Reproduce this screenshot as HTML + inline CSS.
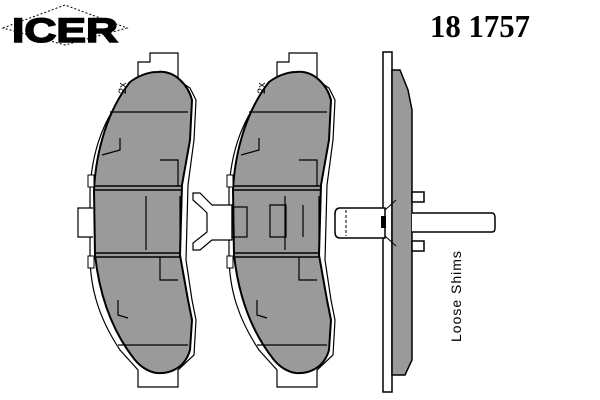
<!DOCTYPE html>
<html><head><style>body{margin:0;background:#fff}svg{display:block}</style></head><body>
<svg width="600" height="400" viewBox="0 0 600 400" xmlns="http://www.w3.org/2000/svg">
<defs>
<g id="pad">
<path d="M138,62 L150,62 L150,53 L178,53 L178,80 L190,88 L196,100 L194,140 L188,185 L186,260 L192,300 L196,320 L194,355 L178,370 L178,387 L138,387 L138,370 L120,350 C100,320 90,290 90,255 L90,190 C92,150 105,110 138,80 Z" fill="#fff" stroke="#000" stroke-width="1.2"/>
<path d="M157,72 C175,70 188,85 192,100 L190,140 L182,185 L180,255 L188,300 L192,320 L190,350 C185,368 170,374 157,373 C148,372 140,366 135,360 C115,335 100,300 95,255 L94,190 C96,150 108,110 130,82 C138,76 148,72 157,72 Z" fill="#9a9a9a" stroke="#000" stroke-width="2"/>
<path d="M94,186 L182,186 M94,190 L182,190 M94,253 L181,253 M94,257 L181,257" stroke="#000" stroke-width="1.5" fill="none"/>
<path d="M110,112 L188,112 M120,138 L120,150 L102,155 M160,160 L178,160 L178,186 M146,196 L146,250 M180,196 L180,250 M160,257 L160,280 L178,280 M118,300 L118,315 L128,318 M118,345 L188,345" stroke="#000" stroke-width="1.2" fill="none"/>
<path d="M93,208 L78,208 L78,237 L93,237" fill="#fff" stroke="#000" stroke-width="1.2"/>
<rect x="88" y="175" width="6" height="12" fill="#fff" stroke="#000"/>
<rect x="88" y="256" width="6" height="12" fill="#fff" stroke="#000"/>
<text x="126" y="94" font-family="Liberation Sans, sans-serif" font-size="11" transform="rotate(-90 126 94)">2x</text>
</g>
</defs>
<path d="M3,28 L65,5 L127,28 L65,45 Z" fill="none" stroke="#000" stroke-width="1" stroke-dasharray="2,2"/>
<text x="12" y="42" font-family="Liberation Sans, sans-serif" font-weight="bold" font-size="34" textLength="106" lengthAdjust="spacingAndGlyphs" fill="#000" stroke="#000" stroke-width="1.5">ICER</text>
<text x="430" y="37" font-family="Liberation Serif, serif" font-weight="bold" font-size="32" textLength="100" lengthAdjust="spacingAndGlyphs" fill="#000">18 1757</text>
<use href="#pad"/>
<use href="#pad" transform="translate(139,0)"/>
<g fill="#fff" stroke="#000" stroke-width="1.2">
<path d="M193,193 L200,193 L212,205 L232,205 L232,240 L212,240 L200,250 L193,250 L193,243 L202,236 L207,232 L207,213 L202,208 L193,200 Z"/>
<rect x="232" y="207" width="15" height="30" fill="none"/>
<path d="M270,205 L286,205 L286,237 L270,237 Z M303,205 L303,237" fill="none"/>
</g>
<rect x="383" y="52" width="9" height="340" fill="#fff" stroke="#000" stroke-width="1.5"/>
<path d="M392,70 L400,70 L408,90 L412,110 L412,360 L405,375 L392,375 Z" fill="#9a9a9a" stroke="#000" stroke-width="1.5"/>
<rect x="412" y="192" width="12" height="10" fill="#fff" stroke="#000" stroke-width="1.5"/>
<rect x="412" y="241" width="12" height="10" fill="#fff" stroke="#000" stroke-width="1.5"/>
<path d="M340,208 L385,208 L385,238 L340,238 Q335,238 335,232 L335,214 Q335,208 340,208 Z" fill="#fff" stroke="#000" stroke-width="1.5"/>
<path d="M346,210 L346,236" stroke="#000" stroke-dasharray="3,2"/>
<path d="M412,213 L492,213 Q495,213 495,218 L495,228 Q495,232 492,232 L412,232" fill="#fff" stroke="#000" stroke-width="1.5"/>
<rect x="381" y="216" width="5" height="12" fill="#000"/>
<path d="M385,210 L396,200 M385,236 L396,246" stroke="#000"/>
<text x="461" y="342" font-family="Liberation Sans, sans-serif" font-size="14" transform="rotate(-90 461 342)" letter-spacing="1">Loose  Shims</text>
</svg>
</body></html>
